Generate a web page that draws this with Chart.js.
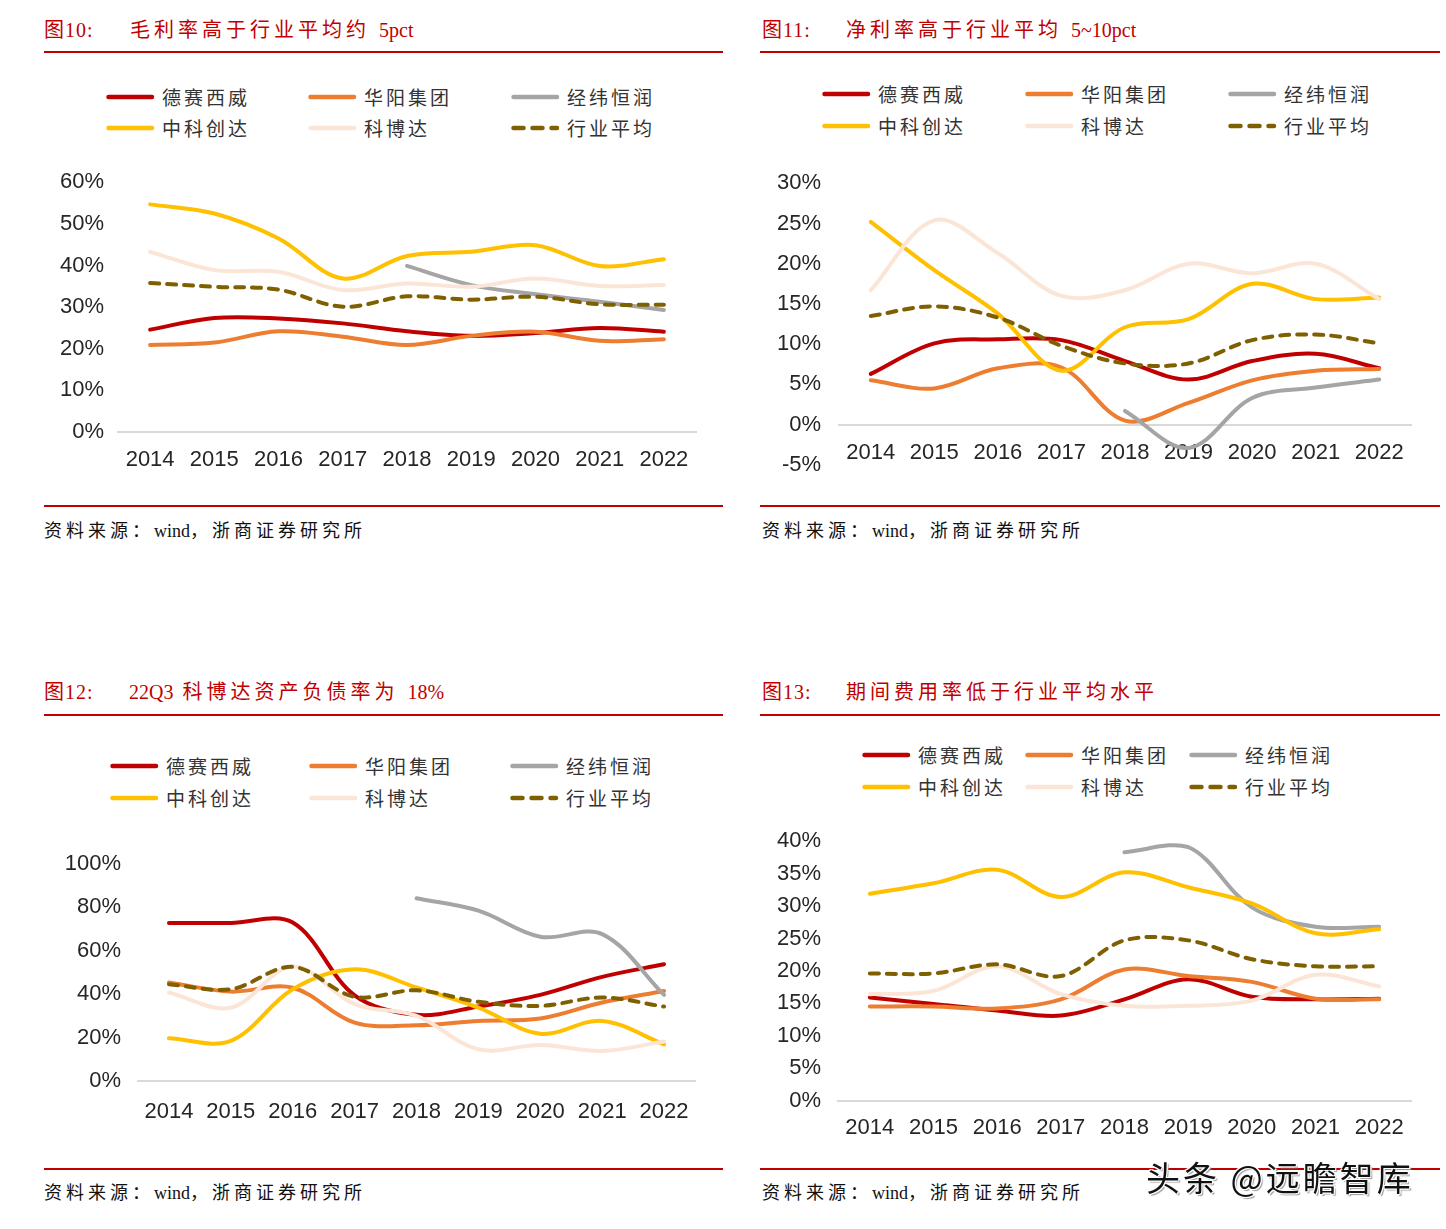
<!DOCTYPE html>
<html>
<head>
<meta charset="utf-8">
<script src="https://cdn.jsdelivr.net/npm/chart.js@4.4.0/dist/chart.umd.min.js"></script>
<style>
  body{margin:0;background:#fff;width:1446px;height:1229px;position:relative;overflow:hidden;
       font-family:"Liberation Serif","Noto Sans CJK SC",serif;}
  .abs{position:absolute;white-space:nowrap;}
  .title{color:#c00000;font-size:20px;letter-spacing:4px;line-height:24px;}
  .fig{letter-spacing:1px;}
  .rule{position:absolute;height:2px;background:#c00000;}
  .src{font-size:18px;letter-spacing:4px;color:#111;line-height:22px;}
  .lat{letter-spacing:0;}
  .leg{font-family:"Noto Sans CJK SC",sans-serif;font-size:19px;letter-spacing:3px;color:#333;line-height:24px;}
  .wm{font-family:"Noto Sans CJK SC",sans-serif;font-size:34px;letter-spacing:3px;line-height:40px;color:#111;
      text-shadow:0 0 2px #fff,1px 1px 0 #fff,-1px -1px 0 #fff,1px -1px 0 #fff,-1px 1px 0 #fff,2px 2px 1px #999;}
  canvas{position:absolute;}
</style>
</head>
<body>
<div id="page"></div>
<script>
const years = ['2014','2015','2016','2017','2018','2019','2020','2021','2022'];
const names = ['德赛西威','华阳集团','经纬恒润','中科创达','科博达','行业平均'];
const colors = ['#C00000','#ED7D31','#A5A5A5','#FFC000','#FBE5D6','#7F6000'];

// 图10 毛利率 (%)
const gm_dsxw = [24.6,27.4,27.3,26.1,24.2,23.1,23.8,25.0,24.1];
const gm_hyjt = [20.9,21.5,24.2,22.9,20.9,23.1,24.1,21.9,22.3];
const gm_jwhr = [null,null,null,null,39.9,35.3,33.1,31.3,29.3];
const gm_zkcd = [54.7,52.5,46.5,36.9,42.3,43.3,44.9,39.9,41.5];
const gm_kbd  = [43.3,38.9,38.5,34.1,35.7,34.9,36.9,35.1,35.3];
const gm_avg  = [35.8,34.9,34.2,30.1,32.6,31.8,32.5,30.7,30.6];

// 图11 净利率 (%)
const np_dsxw = [6.3,10.1,10.6,10.5,7.9,5.6,7.9,8.8,7.0];
const np_hyjt = [5.5,4.5,7.0,7.1,0.5,2.7,5.5,6.7,6.9];
const np_jwhr = [null,null,null,null,1.7,-2.9,3.3,4.6,5.6];
const np_zkcd = [25.2,19.2,13.8,6.7,12.1,13.1,17.5,15.6,15.8];
const np_kbd  = [16.7,25.4,21.3,16.0,16.7,20.0,18.8,20.0,15.6];
const np_avg  = [13.5,14.7,13.3,9.8,7.6,7.6,10.5,11.2,10.1];

// 图12 资产负债率 (%)
const dr_dsxw = [72.8,72.8,73.0,39.5,30.5,34.3,39.7,48.0,53.8];
const dr_hyjt = [45.4,41.2,43.0,26.9,25.7,27.7,28.8,36.2,41.5];
const dr_jwhr = [null,null,null,null,84.2,78.5,66.5,67.7,39.7];
const dr_zkcd = [19.7,18.5,42.3,51.5,43.1,33.8,21.8,27.7,16.9];
const dr_kbd  = [40.8,33.8,52.8,35.4,30.0,14.6,16.6,13.8,18.2];
const dr_avg  = [44.6,42.3,52.6,38.8,41.8,36.5,34.6,38.5,34.3];

// 图13 期间费用率 (%)
const er_dsxw = [15.9,14.9,13.9,13.1,15.6,18.7,16.0,15.6,15.7];
const er_hyjt = [14.5,14.5,14.2,15.6,20.2,19.2,18.3,15.7,15.6];
const er_jwhr = [null,null,null,null,38.3,39.1,29.8,26.8,26.8];
const er_zkcd = [31.9,33.5,35.6,31.4,35.2,32.9,30.4,25.8,26.4];
const er_kbd  = [16.4,16.9,20.7,16.4,14.6,14.6,15.4,19.4,17.6];
const er_avg  = [19.6,19.6,21.0,19.2,24.7,24.7,21.8,20.7,20.7];

const page = document.getElementById('page');
const add = (html) => page.insertAdjacentHTML('beforeend', html);
// latin runs keep normal spacing, only the CJK glyphs are spread out
const sp = (t) => t.replace(/([A-Za-z0-9~%:.]+)/g, '<span class="lat">$1</span>');

const panels = [
  { fig:'图10:', title:'毛利率高于行业平均约 5pct', x0:44, tx:130, ty:30, rule:[44,723,51], bottom:505, srcY:531,
    legX:[106,308,511], legY:[97,128],
    canvas:{l:40,t:151,w:690,h:340}, area:{l:118,t:182.3,r:696,b:432}, labPad:14, xPad:15,
    min:0, max:60, step:10, zeroAxis:false,
    series:[gm_dsxw,gm_hyjt,gm_jwhr,gm_zkcd,gm_kbd,gm_avg] },
  { fig:'图11:', title:'净利率高于行业平均 5~10pct', x0:762, tx:846, ty:30, rule:[760,1440,51], bottom:505, srcY:531,
    legX:[822,1025,1228], legY:[94,126],
    canvas:{l:760,t:150,w:680,h:346}, area:{l:839,t:183.3,r:1411,b:463.3}, labPad:18, xPad:15,
    min:-5, max:30, step:5, zeroAxis:true,
    series:[np_dsxw,np_hyjt,np_jwhr,np_zkcd,np_kbd,np_avg] },
  { fig:'图12:', title:'22Q3 科博达资产负债率为 18%', x0:44, tx:129, ty:692, rule:[44,723,714], bottom:1168, srcY:1193,
    legX:[110,309,510], legY:[766,798],
    canvas:{l:40,t:831,w:690,h:330}, area:{l:138,t:864,r:695,b:1081}, labPad:17, xPad:18,
    min:0, max:100, step:20, zeroAxis:false,
    series:[dr_dsxw,dr_hyjt,dr_jwhr,dr_zkcd,dr_kbd,dr_avg] },
  { fig:'图13:', title:'期间费用率低于行业平均水平', x0:762, tx:846, ty:692, rule:[760,1440,714], bottom:1168, srcY:1193,
    legX:[862,1025,1189], legY:[755,787],
    canvas:{l:760,t:811,w:680,h:350}, area:{l:838,t:837.5,r:1411,b:1100.5}, labPad:17, xPad:14,
    min:0, max:40, step:5, zeroAxis:false,
    series:[er_dsxw,er_hyjt,er_jwhr,er_zkcd,er_kbd,er_avg] },
];

function addHeader(p){
  add(`<div class="abs title fig" style="left:${p.x0}px;top:${p.ty-12}px">${p.fig}</div>`);
  add(`<div class="abs title" style="left:${p.tx}px;top:${p.ty-12}px">${sp(p.title)}</div>`);
  add(`<div class="rule" style="left:${p.rule[0]}px;width:${p.rule[1]-p.rule[0]}px;top:${p.rule[2]}px"></div>`);
  add(`<div class="rule" style="left:${p.rule[0]}px;width:${p.rule[1]-p.rule[0]}px;top:${p.bottom}px"></div>`);
  add(`<div class="abs src" style="left:${p.x0}px;top:${p.srcY-11}px">${sp('资料来源：wind，浙商证券研究所')}</div>`);
}

function addLegend(p){
  names.forEach((n,i)=>{
    const x = p.legX[i%3], y = p.legY[Math.floor(i/3)];
    const dash = i===5 ? 'stroke-dasharray="10 9"' : '';
    add(`<svg class="abs" style="left:${x}px;top:${y-5}px" width="50" height="10">
      <line x1="2.5" y1="5" x2="46" y2="5" stroke="${colors[i]}" stroke-width="4.5" stroke-linecap="round" ${dash}/></svg>`);
    add(`<div class="abs leg" style="left:${x+56}px;top:${y-12}px">${n}</div>`);
  });
}

const XH = 40; // x axis box height

function addChart(p){
  const c = p.canvas, a = p.area;
  const cv = document.createElement('canvas');
  cv.width = c.w; cv.height = c.h;
  cv.style.left = c.l+'px'; cv.style.top = c.t+'px';
  page.appendChild(cv);

  // the axis on the zero line reserves a fixed gap of its own, so the canvas height sets the bottom there
  const padBottom = p.zeroAxis ? 10 : (c.t + c.h - a.b - XH);
  const datasets = p.series.map((d,i)=>({
    label: names[i], data: d,
    borderColor: colors[i], backgroundColor: colors[i],
    borderWidth: 4, borderDash: i===5 ? [9,8] : [],
    borderCapStyle: 'round', borderJoinStyle: 'round',
    pointRadius: 0, tension: 0.35, fill: false,
    order: 6 - i
  }));

  new Chart(cv, {
    type: 'line',
    data: { labels: years, datasets },
    options: {
      responsive: false, animation: false,
      layout: { padding: { left: 0, top: a.t - c.t, right: c.l + c.w - a.r, bottom: padBottom } },
      plugins: { legend: { display: false }, tooltip: { enabled: false } },
      scales: {
        x: {
          type: 'category', offset: true,
          position: p.zeroAxis ? { y: 0 } : 'bottom',
          z: p.zeroAxis ? 1 : 0,
          grid: { display: false, drawTicks: false },
          border: { display: true, color: '#D9D9D9', width: 2 },
          ticks: { color: '#262626', font: { size: 22 }, padding: p.xPad, autoSkip: false, maxRotation: 0 },
          afterFit: s => { s.height = XH; }
        },
        y: {
          min: p.min, max: p.max,
          grid: { display: false, drawTicks: false },
          border: { display: false },
          ticks: { stepSize: p.step, color: '#262626', font: { size: 22 }, padding: p.labPad,
                   callback: v => v + '%' },
          afterFit: s => { s.width = a.l - c.l; }
        }
      }
    }
  });
}

Chart.defaults.font.family = '"Liberation Sans", Arial, sans-serif';

panels.forEach(p => { addHeader(p); addLegend(p); addChart(p); });

add(`<div class="abs wm" style="left:1146px;top:1157px">头条 @远瞻智库</div>`);
</script>
</body>
</html>
